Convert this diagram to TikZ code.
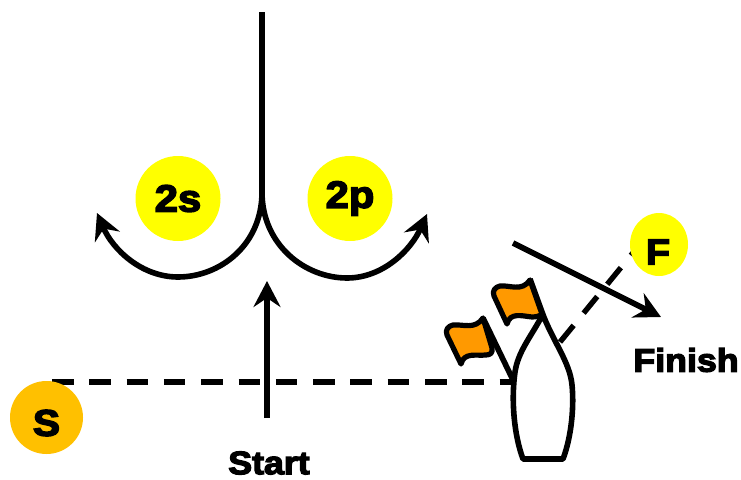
\documentclass[tikz,border=0pt]{standalone}
\usepackage{fontspec}
\usetikzlibrary{arrows.meta,shapes.geometric}
\newfontfamily\blk[FakeBold=4,FakeStretch=1.1]{Liberation Sans Bold}
\definecolor{buoyY}{HTML}{FFFF00}
\definecolor{buoyS}{HTML}{FFC000}
\definecolor{flagO}{HTML}{FF9900}
\tikzset{
  x=1pt,y=-1pt,
  line/.style={line width=5.6pt,black},
  course/.style={line,-{Stealth[length=26pt,width=27pt,inset=9pt]}},
  dashline/.style={line width=5.4pt,black,dash pattern=on 21.5pt off 15.8pt},
  buoy/.style={circle,fill=#1,inner sep=0pt,minimum size=85pt,text=black,font=\blk\fontsize{38}{38}\selectfont},
  lab/.style={inner sep=0pt,text=black,font=\blk\fontsize{32.5}{32.5}\selectfont},
  flagshape/.style={line width=5.2pt,draw=black,fill=flagO,line join=round},
}
\begin{document}
\begin{tikzpicture}
\useasboundingbox (0,0) rectangle (741,479);
% marks
\node[buoy=buoyY] (ts) at (178,198.5) {2s};
\node[buoy=buoyY] (tp) at (350,198.5) {2p};
\coordinate (apex) at (262,12);
\coordinate (fork) at (262,192);
\coordinate (startTail) at (267,418);
\coordinate (startTip) at (267,281);
\coordinate (portTip) at (97,213);
\coordinate (stbdTip) at (427,214);
\coordinate (lineS) at (52,382);
\coordinate (lineB) at (515,382);
\coordinate (finA) at (513,243);
\coordinate (finB) at (661,317);
\coordinate (boatF) at (560,342);
\coordinate (fCentre) at (659,221);
% connectors
\draw[line] (apex) -- (fork);
\draw[course] (fork) .. controls (262,245) and (220,277) .. (178,277) .. controls (142,277) and (113,250) .. (portTip);
\draw[course] (fork) .. controls (262,245) and (305,278) .. (347,278) .. controls (383,278) and (411,250) .. (stbdTip);
\draw[course] (startTail) -- (startTip);
\draw[dashline] (lineS) -- (lineB);
\draw[dashline] (boatF) -- (fCentre);
\draw[course] (finA) -- (finB);
% boat
\draw[line,line join=round] (542,316) .. controls (530,338) and (518,352) .. (515,372)
  .. controls (511,400) and (514,435) .. (523,459) -- (563,459)
  .. controls (572,435) and (574,405) .. (572,385)
  .. controls (570,362) and (552,340) .. (542,312) -- (530,279);
% flags
\draw[flagshape] (530,280) .. controls (522,292) and (510,285) .. (500,286)
  .. controls (495,287) and (492,291) .. (494,296) -- (507,324)
  .. controls (510,312) and (522,316) .. (532,317) .. controls (536,317) and (540,316) .. (542,314) -- cycle;
\draw[flagshape] (483,318) .. controls (475,330) and (463,324) .. (453,325)
  .. controls (448,326) and (445,330) .. (447,335) -- (461,364)
  .. controls (464,352) and (476,356) .. (486,355) .. controls (490,355) and (493,353) .. (492,348) -- cycle;
\draw[line] (483,318) -- (513,380);
% buoys on top of their dashed lines
\node[buoy=buoyS,minimum size=73pt] (s) at (46.5,417.5) {};
\node[lab,font=\blk\fontsize{37}{37}\selectfont] (slab) at (46.5,423) {S};
\node[ellipse,fill=buoyY,inner sep=0pt,minimum width=58pt,minimum height=63pt] (f) at (659,244.5) {};
\node[lab,font=\blk\fontsize{36}{36}\selectfont] (flab) at (658,252) {F};
\node[lab] (finish) at (686,360) {Finish};
\node[lab] (start) at (269,463) {Start};
\end{tikzpicture}
\end{document}
